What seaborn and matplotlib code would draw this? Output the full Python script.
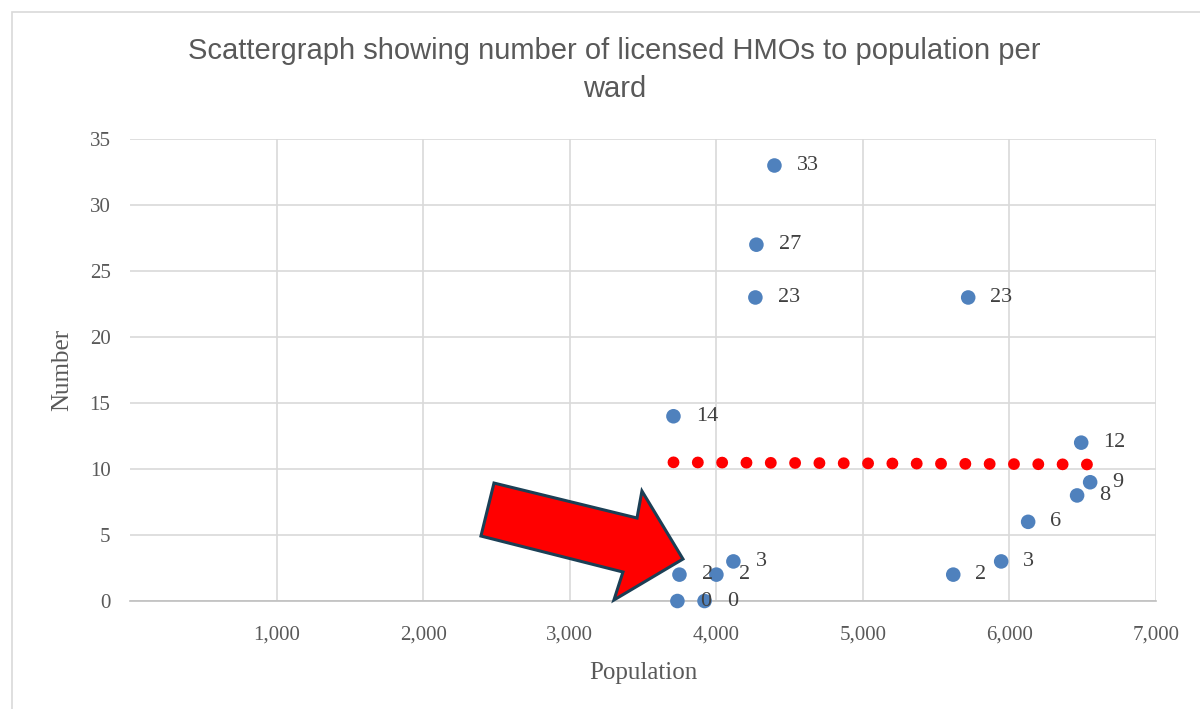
import matplotlib.pyplot as plt
import matplotlib.patches as mpatches
from matplotlib.ticker import FuncFormatter
import pandas as pd
import seaborn as sns

# ward population vs number of licensed HMOs
population = [4397, 4274, 4267, 5719, 3708, 6490, 6551, 6462, 6128,
              5944, 5617, 4117, 4001, 3749, 3735, 3920]
hmos = [33, 27, 23, 23, 14, 12, 9, 8, 6, 3, 2, 3, 2, 2, 0, 0]

df = pd.DataFrame({'population': population, 'hmos': hmos})

sns.set_theme(style='white')
plt.rcParams['font.family'] = ['Liberation Serif', 'DejaVu Serif']

fig = plt.figure(figsize=(12, 7.09), dpi=100)
ax = fig.add_axes([0.1083, 0.1523, 0.855, 0.6515])

# outer chart frame
fig.patches.append(mpatches.Rectangle((0.01, -0.01), 1.0, 0.993, transform=fig.transFigure,
                                      fill=False, edgecolor='#d9d9d9', lw=1.2))

# linear trendline, dotted red
sns.regplot(data=df, x='population', y='hmos', scatter=False, ci=None, truncate=True, ax=ax,
            line_kws=dict(color='#ff0000', lw=8.5, linestyle=(0, (0.01, 2.05)),
                          dash_capstyle='round', zorder=2))

sns.scatterplot(data=df, x='population', y='hmos', ax=ax, color='#4f81bd', s=110,
                edgecolor='none', zorder=3, clip_on=False)

for px, val in zip(population, hmos):
    ax.annotate(str(val), (px, val), xytext=(16, 0), textcoords='offset points',
                ha='left', va='center', fontsize=16, color='#404040')

ax.set_xlim(0, 7000)
ax.set_ylim(0, 35)
ax.set_xticks(range(1000, 7001, 1000))
ax.set_yticks(range(0, 36, 5))
ax.xaxis.set_major_formatter(FuncFormatter(lambda v, p: f'{int(v):,}'))
ax.grid(True, color='#d9d9d9', lw=1.2)
ax.tick_params(axis='both', labelsize=15, labelcolor='#595959', length=0)
ax.tick_params(axis='y', pad=14)
ax.tick_params(axis='x', pad=18)
for s in ['top', 'right', 'left']:
    ax.spines[s].set_visible(False)
ax.spines['bottom'].set_color('#bfbfbf')
ax.spines['bottom'].set_linewidth(1.2)

ax.set_xlabel('Population', fontsize=18, color='#595959', labelpad=12)
ax.set_ylabel('Number', fontsize=18, color='#595959', labelpad=12)

fig.suptitle('Scattergraph showing number of licensed HMOs to population per\nward',
             x=0.512, y=0.948, fontsize=21, color='#595959', family='Liberation Sans',
             linespacing=1.45)

# red arrow pointing at the low cluster
arrow = [(0.3548, 0.2554), (0.4942, 0.1797), (0.4990, 0.2381), (0.5390, 0.0909),
         (0.4717, 0.0022), (0.4805, 0.0628), (0.3421, 0.1407)]
ax.add_patch(mpatches.Polygon(arrow, closed=True, transform=ax.transAxes, facecolor='#ff0000',
                              edgecolor='#1b3f55', lw=2.2, zorder=4, clip_on=False))

fig.savefig('out.png', dpi=100)
